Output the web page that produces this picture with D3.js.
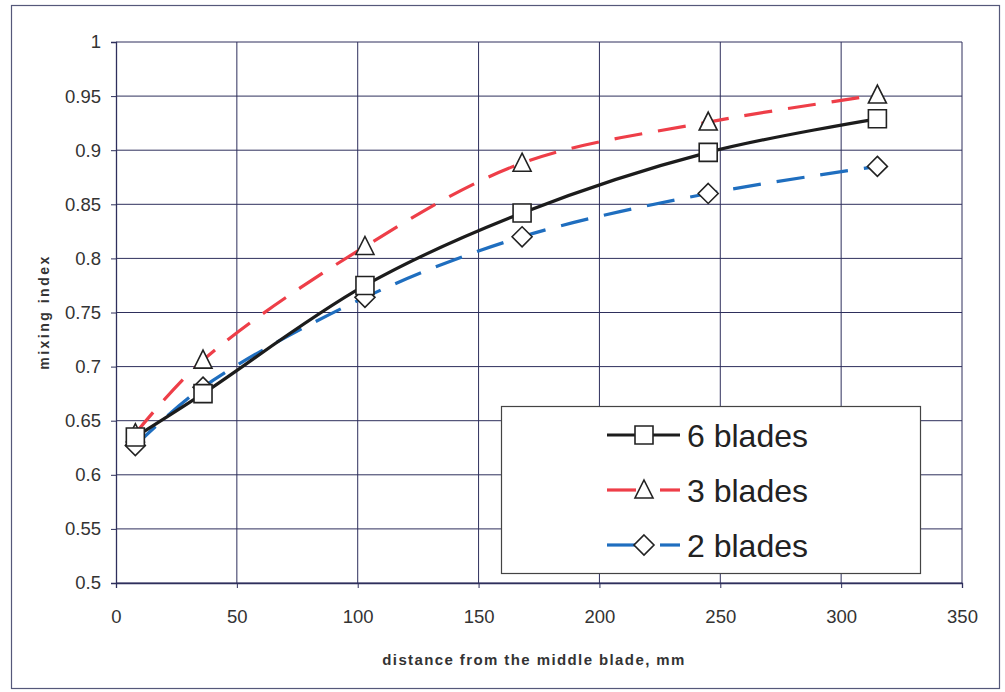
<!DOCTYPE html>
<html>
<head>
<meta charset="utf-8">
<script src="https://cdn.jsdelivr.net/npm/d3@7"></script>
<style>
  body { margin: 0; background: #fff; }
  svg { display: block; font-family: "Liberation Sans", Arial, sans-serif; }
</style>
</head>
<body>
<div id="chart"></div>
<script>
/* DATA */
const distance = [8, 36, 103, 168, 245, 315];
const blades6 = [0.635, 0.675, 0.775, 0.842, 0.898, 0.929];
const blades3 = [0.638, 0.706, 0.811, 0.888, 0.926, 0.951];
const blades2 = [0.627, 0.681, 0.764, 0.820, 0.860, 0.885];
const xTicks = [0, 50, 100, 150, 200, 250, 300, 350];
const yTicks = [0.5, 0.55, 0.6, 0.65, 0.7, 0.75, 0.8, 0.85, 0.9, 0.95, 1];

const width = 1005, height = 692;
const margin = { top: 42, right: 43, bottom: 109, left: 116 };

const series = [
  { name: "6 blades", values: blades6, color: "#1c1c1c", dash: null, marker: "square" },
  { name: "3 blades", values: blades3, color: "#ee3e48", dash: "28,16", marker: "triangle" },
  { name: "2 blades", values: blades2, color: "#1f6ebf", dash: "28,16", marker: "diamond" }
];

const svg = d3.select("#chart").append("svg")
  .attr("width", width)
  .attr("height", height);

// outer frame
svg.append("rect")
  .attr("x", 11.5).attr("y", 5.5)
  .attr("width", 988).attr("height", 683)
  .attr("fill", "#fff")
  .attr("stroke", "#55587a")
  .attr("stroke-width", 1.2);

const xScale = d3.scaleLinear().domain([0, 350]).range([margin.left, width - margin.right]);
const yScale = d3.scaleLinear().domain([0.5, 1]).range([height - margin.bottom, margin.top]);

// grid
svg.append("g")
  .selectAll("line")
  .data(yTicks)
  .join("line")
  .attr("x1", margin.left).attr("x2", width - margin.right)
  .attr("y1", d => yScale(d)).attr("y2", d => yScale(d))
  .attr("stroke", "#2e2f5c").attr("stroke-width", 1);

svg.append("g")
  .selectAll("line")
  .data(xTicks.slice(1))
  .join("line")
  .attr("x1", d => xScale(d)).attr("x2", d => xScale(d))
  .attr("y1", margin.top).attr("y2", height - margin.bottom)
  .attr("stroke", "#2e2f5c").attr("stroke-width", 1);

// axes
const xAxis = d3.axisBottom(xScale).tickValues(xTicks).tickSize(5).tickPadding(22).tickFormat(d3.format("d"));
const yAxis = d3.axisLeft(yScale).tickValues(yTicks).tickSize(5).tickPadding(10).tickFormat(d => d3.format("")(d));

const gx = svg.append("g")
  .attr("transform", `translate(0,${height - margin.bottom})`)
  .call(xAxis);
const gy = svg.append("g")
  .attr("transform", `translate(${margin.left},0)`)
  .call(yAxis);

[gx, gy].forEach(g => {
  g.select(".domain").attr("stroke", "#2e2f5c").attr("stroke-width", 1.3);
  g.selectAll(".tick line").attr("stroke", "#2e2f5c");
  g.selectAll(".tick text").attr("fill", "#333").attr("font-size", 18.5);
});

// axis titles
svg.append("text")
  .attr("x", 534)
  .attr("y", 665)
  .attr("text-anchor", "middle")
  .attr("font-size", 15)
  .attr("font-weight", "bold")
  .attr("letter-spacing", 1.4)
  .attr("fill", "#333")
  .text("distance from the middle blade, mm");

svg.append("text")
  .attr("transform", "translate(49,312) rotate(-90)")
  .attr("text-anchor", "middle")
  .attr("font-size", 14)
  .attr("font-weight", "bold")
  .attr("letter-spacing", 2.5)
  .attr("fill", "#333")
  .text("mixing index");

// lines
const line = d3.line()
  .x((d, i) => xScale(distance[i]))
  .y(d => yScale(d))
  .curve(d3.curveCatmullRom.alpha(0.5));

function drawMarker(g, type, x, y) {
  const s = 9;
  let path;
  if (type === "square") path = `M${x - s},${y - s}h${2 * s}v${2 * s}h${-2 * s}Z`;
  if (type === "triangle") path = `M${x},${y - s - 1}L${x + s},${y + s - 1}L${x - s},${y + s - 1}Z`;
  if (type === "diamond") path = `M${x},${y - s - 1}L${x + s + 1},${y}L${x},${y + s + 1}L${x - s - 1},${y}Z`;
  g.append("path")
    .attr("d", path)
    .attr("fill", "#fff")
    .attr("stroke", "#222")
    .attr("stroke-width", 1.6);
}

// draw 2, 3 then 6 blades
[series[2], series[1], series[0]].forEach(s => {
  svg.append("path")
    .datum(s.values)
    .attr("d", line)
    .attr("fill", "none")
    .attr("stroke", s.color)
    .attr("stroke-width", 3.2)
    .attr("stroke-dasharray", s.dash);
});

const markers = svg.append("g");
[series[2], series[1], series[0]].forEach(s => {
  s.values.forEach((v, i) => drawMarker(markers, s.marker, xScale(distance[i]), yScale(v)));
});

// legend
const legend = svg.append("g");
legend.append("rect")
  .attr("x", 501.5).attr("y", 406.5)
  .attr("width", 419).attr("height", 167)
  .attr("fill", "#fff")
  .attr("stroke", "#444")
  .attr("stroke-width", 1.2);

series.forEach((s, i) => {
  const y = 435 + i * 55;
  if (s.dash) {
    legend.append("line").attr("x1", 607).attr("x2", 636).attr("y1", y).attr("y2", y)
      .attr("stroke", s.color).attr("stroke-width", 3.2);
    legend.append("line").attr("x1", 660).attr("x2", 680).attr("y1", y).attr("y2", y)
      .attr("stroke", s.color).attr("stroke-width", 3.2);
  } else {
    legend.append("line").attr("x1", 607).attr("x2", 680).attr("y1", y).attr("y2", y)
      .attr("stroke", s.color).attr("stroke-width", 3.2);
  }
  drawMarker(legend, s.marker, 644, y);
  legend.append("text")
    .attr("x", 687).attr("y", y)
    .attr("dy", "0.36em")
    .attr("font-size", 32)
    .attr("fill", "#222")
    .text(s.name);
});
</script>
</body>
</html>
